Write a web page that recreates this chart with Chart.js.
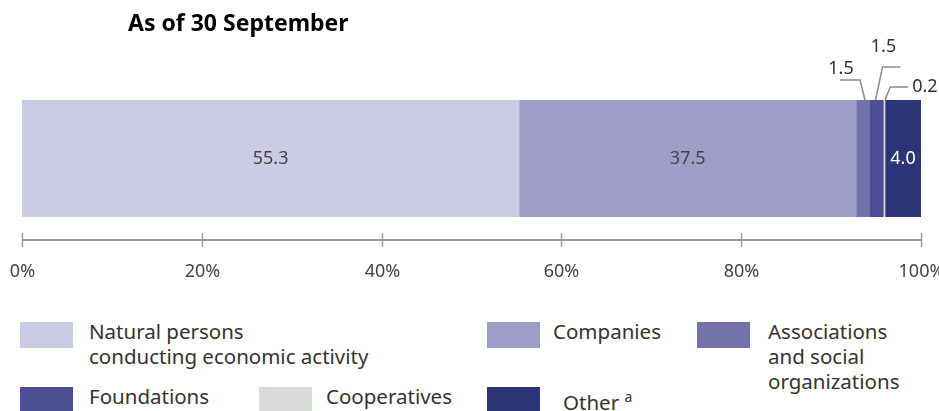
<!DOCTYPE html>
<html>
<head>
<meta charset="utf-8">
<script src="https://cdn.jsdelivr.net/npm/chart.js@4"></script>
<style>
  body { margin: 0; background: #fff; font-family: "Noto Sans", sans-serif; }
  #wrap { position: relative; width: 939px; height: 411px; overflow: hidden; }
  #title { position: absolute; left: 128px; top: 6px; font-size: 23px; font-weight: bold; color: #000; }
  #chartBox { position: absolute; left: 0; top: 0; width: 939px; height: 300px; }
  .lg { position: absolute; font-size: 20.5px; line-height: 25px; color: #333; }
  .sw { position: absolute; width: 53px; height: 26px; }
  sup { font-size: 14px; }
</style>
</head>
<body>
<div id="wrap">
  <div id="chartBox"><canvas id="myChart"></canvas></div>
  <div id="title">As of 30 September</div>
  <div id="legend"></div>
</div>
<script>
var categories = ['Natural persons conducting economic activity', 'Companies',
  'Associations and social organizations', 'Foundations', 'Cooperatives', 'Other'];
var legendLabels = ['Natural persons<br>conducting economic activity', 'Companies',
  'Associations<br>and social<br>organizations', 'Foundations', 'Cooperatives', 'Other <sup>a</sup>'];
var shares = [55.3, 37.5, 1.5, 1.5, 0.2, 4.0];
var colors = ['#cbcbe3', '#9e9ec8', '#7373aa', '#4d4f94', '#d8dad8', '#2b3578'];
var tickValues = [0, 20, 40, 60, 80, 100];
var tickLabels = ['0%', '20%', '40%', '60%', '80%', '100%'];

// legend placement: swatch left, swatch top, text left
var legendPos = [[20, 322, 89], [487, 322, 553], [697, 322, 768], [20, 387, 89], [259, 387, 326], [487, 387, 563]];
var lg = document.getElementById('legend');
legendPos.forEach(function (p, i) {
  var s = document.createElement('div');
  s.className = 'sw';
  s.style.left = p[0] + 'px'; s.style.top = p[1] + 'px'; s.style.background = colors[i];
  lg.appendChild(s);
  var t = document.createElement('div');
  t.className = 'lg';
  t.style.left = p[2] + 'px'; t.style.top = (p[1] - 3) + 'px';
  t.innerHTML = legendLabels[i];
  lg.appendChild(t);
});

// callouts for the thin segments
var callouts = [
  {ds: 2, bottomDx: 2, elbowDx: -3, elbowY: 80, endDx: -23, tx: -22, ty: 69, align: 'center'},
  {ds: 3, bottomDx: -1, elbowDx: 6, elbowY: 67, endDx: 24, tx: 7, ty: 47, align: 'center'},
  {ds: 4, bottomDx: 1, elbowDx: 6, elbowY: 87, endDx: 24, tx: 28, ty: 87, align: 'left'}
];

var annotate = {
  id: 'annotate',
  afterDraw: function (chart) {
    var c = chart.ctx, x = chart.scales.x, area = chart.chartArea;
    var font = '18px "Noto Sans", sans-serif';
    c.save();
    // axis
    var ay = 240;
    c.strokeStyle = '#9a9a9a';
    c.lineWidth = 2;
    c.beginPath();
    c.moveTo(x.getPixelForValue(0), ay); c.lineTo(x.getPixelForValue(100), ay);
    c.stroke();
    c.lineWidth = 1.5;
    c.fillStyle = '#444';
    c.font = font;
    c.textAlign = 'center';
    c.textBaseline = 'middle';
    tickValues.forEach(function (v, i) {
      var px = Math.round(x.getPixelForValue(v)) + 0.5;
      c.beginPath(); c.moveTo(px, ay - 7); c.lineTo(px, ay + 7); c.stroke();
      c.fillText(tickLabels[i], px, 272);
    });
    // value labels inside bar
    var cum = 0, mids = [];
    shares.forEach(function (v, i) {
      var a = x.getPixelForValue(cum), b = x.getPixelForValue(cum + v);
      mids.push((a + b) / 2);
      cum += v;
      if (v >= 4) {
        c.fillStyle = i >= 3 ? '#ffffff' : '#444';
        c.fillText(v.toFixed(1), (a + b) / 2, (area.top + area.bottom) / 2);
      }
    });
    // callouts
    c.strokeStyle = '#8a8a8a';
    c.lineWidth = 1.5;
    c.fillStyle = '#333';
    callouts.forEach(function (k) {
      var m = mids[k.ds];
      c.beginPath();
      c.moveTo(m + k.bottomDx, area.top);
      c.lineTo(m + k.elbowDx, k.elbowY);
      c.lineTo(m + k.endDx, k.elbowY);
      c.stroke();
      c.textAlign = k.align;
      c.fillText(shares[k.ds].toFixed(1), m + k.tx, k.ty);
    });
    c.restore();
  }
};

var ctx = document.getElementById('myChart').getContext('2d');
var myChart = new Chart(ctx, {
  type: 'bar',
  data: {
    labels: ['Share'],
    datasets: categories.map(function (name, i) {
      return {
        label: name,
        data: [shares[i]],
        backgroundColor: colors[i],
        borderWidth: 0,
        barPercentage: 1,
        categoryPercentage: 1
      };
    })
  },
  options: {
    indexAxis: 'y',
    responsive: true,
    maintainAspectRatio: false,
    animation: false,
    layout: { padding: { left: 22, right: 18, top: 100, bottom: 83 } },
    plugins: { legend: { display: false }, tooltip: { enabled: false } },
    scales: {
      x: { stacked: true, min: 0, max: 100, display: false },
      y: { stacked: true, display: false }
    }
  },
  plugins: [annotate]
});
</script>
</body>
</html>
